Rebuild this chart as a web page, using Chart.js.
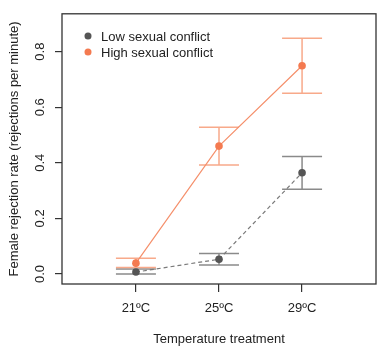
<!DOCTYPE html>
<html><head><meta charset="utf-8">
<script src="https://cdn.jsdelivr.net/npm/chart.js@4/dist/chart.umd.min.js"></script>
<style>html,body{margin:0;padding:0;background:#fff;overflow:hidden}#wrap{width:380px;height:347px}</style>
</head><body><div id="wrap"><canvas id="c" width="380" height="347"></canvas></div>
<script>
const categories = ["21ºC", "25ºC", "29ºC"];
const seriesNames = ["Low sexual conflict", "High sexual conflict"];
const lowMean = [0.007, 0.053, 0.364];
const lowLower = [0.0, 0.032, 0.305];
const lowUpper = [0.018, 0.074, 0.423];
const highMean = [0.039, 0.460, 0.749];
const highLower = [0.023, 0.392, 0.650];
const highUpper = [0.057, 0.528, 0.848];
const yTicks = [0.0, 0.2, 0.4, 0.6, 0.8];
const xTitle = "Temperature treatment";
const yTitle = "Female rejection rate (rejections per minute)";

const FONT = "'Liberation Sans', Arial, sans-serif";
const ORANGE = '#f47a50', ORANGE_BAR = '#f8a98a', ORANGE_LINE = '#f5906c';
const GREY = '#555555', GREY_BAR = '#8a8a8a', GREY_LINE = '#7a7a7a';

const toPts = arr => arr.map((v, i) => ({x: i + 1, y: v}));

const errorBars = {
  id: 'errorBars',
  beforeDatasetsDraw(chart) {
    const {ctx, scales: {x, y}} = chart;
    const sets = [[lowLower, lowUpper, GREY_BAR], [highLower, highUpper, ORANGE_BAR]];
    ctx.save();
    ctx.lineWidth = 1.5;
    sets.forEach(([lo, hi, col]) => {
      ctx.strokeStyle = col;
      lo.forEach((l, i) => {
        const px = x.getPixelForValue(i + 1);
        const y1 = y.getPixelForValue(l), y2 = y.getPixelForValue(hi[i]);
        ctx.beginPath();
        ctx.moveTo(px, y1); ctx.lineTo(px, y2);
        ctx.moveTo(px - 20, y1); ctx.lineTo(px + 20, y1);
        ctx.moveTo(px - 20, y2); ctx.lineTo(px + 20, y2);
        ctx.stroke();
      });
    });
    ctx.restore();
  },
  afterDraw(chart) {
    const {ctx, chartArea: a} = chart;
    ctx.save();
    ctx.strokeStyle = '#333';
    ctx.lineWidth = 1.3;
    ctx.strokeRect(a.left, a.top, a.right - a.left, a.bottom - a.top);
    // legend
    const cols = [GREY, ORANGE];
    ctx.font = '13px ' + FONT;
    ctx.textBaseline = 'middle';
    ctx.textAlign = 'left';
    seriesNames.forEach((n, i) => {
      const yy = 36 + i * 16;
      ctx.fillStyle = cols[i];
      ctx.beginPath(); ctx.arc(88, yy, 3.5, 0, Math.PI * 2); ctx.fill();
      ctx.fillStyle = '#222';
      ctx.fillText(n, 101, yy + 1);
    });
    ctx.restore();
  }
};

new Chart(document.getElementById('c'), {
  type: 'line',
  data: {
    datasets: [
      {label: seriesNames[0], data: toPts(lowMean), borderColor: GREY_LINE, borderWidth: 1.2,
       borderDash: [4, 3], pointRadius: 3.8, pointBackgroundColor: GREY, pointBorderWidth: 0, tension: 0},
      {label: seriesNames[1], data: toPts(highMean), borderColor: ORANGE_LINE, borderWidth: 1.2,
       pointRadius: 3.8, pointBackgroundColor: ORANGE, pointBorderWidth: 0, tension: 0}
    ]
  },
  options: {
    responsive: false,
    animation: false,
    events: [],
    layout: {padding: {top: 5, right: 1, left: 0, bottom: 0}},
    plugins: {legend: {display: false}, tooltip: {enabled: false}},
    scales: {
      x: {
        type: 'linear', min: 0.11, max: 3.89,
        afterBuildTicks: s => { s.ticks = categories.map((c, i) => ({value: i + 1})); },
        afterFit: s => { s.height = 63; },
        ticks: {callback: v => categories[v - 1] || '', color: '#222', font: {size: 13, family: FONT},
                padding: 9, maxRotation: 0, autoSkip: false},
        grid: {drawOnChartArea: false, drawTicks: true, tickLength: 8, color: '#333', lineWidth: 1.2},
        border: {display: false},
        title: {display: true, text: xTitle, color: '#222', font: {size: 13, family: FONT}, padding: {top: 0, bottom: 0}}
      },
      y: {
        min: -0.036, max: 0.936,
        afterBuildTicks: s => { s.ticks = yTicks.map(v => ({value: v})); },
        afterFit: s => { s.width = 62; },
        ticks: {callback: v => v.toFixed(1), color: '#222', font: {size: 13, family: FONT},
                minRotation: 90, maxRotation: 90, crossAlign: 'center', padding: 6},
        grid: {drawOnChartArea: false, drawTicks: true, tickLength: 7, color: '#333', lineWidth: 1.2},
        border: {display: false},
        title: {display: true, text: yTitle, color: '#222', font: {size: 13, family: FONT}, padding: {top: 7, bottom: 0}}
      }
    }
  },
  plugins: [errorBars]
});
</script></body></html>
